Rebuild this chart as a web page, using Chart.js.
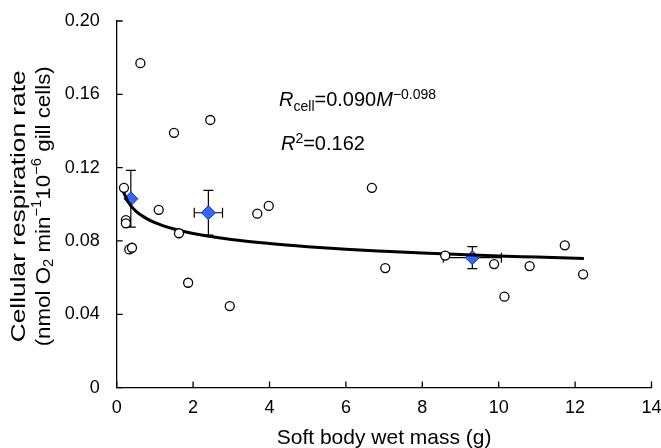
<!DOCTYPE html>
<html>
<head>
<meta charset="utf-8">
<script src="https://cdn.jsdelivr.net/npm/chart.js@4.4.1/dist/chart.umd.min.js"></script>
<style>
html,body{margin:0;padding:0;background:#fff;}
#wrap{width:661px;height:448px;position:relative;}
</style>
</head>
<body>
<div id="wrap"><canvas id="c" width="661" height="448"></canvas></div>
<script>
// Individual measurements
const massX = [0.62,1.50,2.45,0.19,1.10,0.24,0.24,0.33,0.40,1.63,1.87,2.96,3.68,3.98,6.68,7.03,8.60,9.88,10.15,10.81,11.73,12.21];
const rateY = [0.177,0.139,0.146,0.109,0.097,0.0914,0.0896,0.0754,0.0763,0.0842,0.0572,0.0445,0.0949,0.0991,0.109,0.0652,0.0720,0.0674,0.0496,0.0663,0.0776,0.0618];
// Group means with error bars
const meanX = [0.37,2.40,9.31];
const meanY = [0.103,0.0954,0.0709];
const meanXErr = [0,0.37,0.76];
const meanYErr = [0.0155,0.0122,0.0060];
// Fitted curve
const fitX = [0.17,0.3,0.5,0.75,1,1.5,2,3,4,5,6,7,8,9,10,11,12.23];
const fitY = [0.107,0.1013,0.0963,0.0926,0.0900,0.0865,0.0841,0.0808,0.0786,0.0769,0.0755,0.0744,0.0734,0.0726,0.0718,0.0712,0.0704];
// Ticks
const xTicks = [0,2,4,6,8,10,12,14];
const yTicks = [0,0.04,0.08,0.12,0.16,0.20];
const yTickLabels = ['0','0.04','0.08','0.12','0.16','0.20'];
const xTitle = 'Soft body wet mass (g)';

const FONT = '"Liberation Sans", Arial, sans-serif';

const innerTicks = {
  id:'innerTicks',
  afterDraw(chart){
    const ctx = chart.ctx, xs = chart.scales.x, ys = chart.scales.y;
    ctx.save();
    ctx.strokeStyle = '#000'; ctx.lineWidth = 1.3;
    ctx.beginPath();
    xTicks.forEach(v=>{const p=xs.getPixelForValue(v); ctx.moveTo(p,ys.bottom); ctx.lineTo(p,ys.bottom-6);});
    yTicks.forEach(v=>{const p=ys.getPixelForValue(v); ctx.moveTo(xs.left,p); ctx.lineTo(xs.left+6,p);});
    ctx.stroke();
    ctx.restore();
  }
};

const errorBars = {
  id:'errorBars',
  beforeDatasetDraw(chart, args){
    if(args.index !== 2) return;
    const ctx = chart.ctx, xs = chart.scales.x, ys = chart.scales.y;
    ctx.save();
    ctx.strokeStyle = '#000'; ctx.lineWidth = 1.2;
    ctx.beginPath();
    const cap = 5;
    meanX.forEach((mx,i)=>{
      const px = xs.getPixelForValue(mx), py = ys.getPixelForValue(meanY[i]);
      if(meanYErr[i]>0){
        const t = ys.getPixelForValue(meanY[i]+meanYErr[i]), b = ys.getPixelForValue(meanY[i]-meanYErr[i]);
        ctx.moveTo(px,t); ctx.lineTo(px,b);
        ctx.moveTo(px-cap,t); ctx.lineTo(px+cap,t);
        ctx.moveTo(px-cap,b); ctx.lineTo(px+cap,b);
      }
      if(meanXErr[i]>0){
        const l = xs.getPixelForValue(mx-meanXErr[i]), r = xs.getPixelForValue(mx+meanXErr[i]);
        ctx.moveTo(l,py); ctx.lineTo(r,py);
        ctx.moveTo(l,py-cap); ctx.lineTo(l,py+cap);
        ctx.moveTo(r,py-cap); ctx.lineTo(r,py+cap);
      }
    });
    ctx.stroke();
    ctx.restore();
  }
};

function measureRich(ctx, parts){
  let w = 0;
  parts.forEach(p=>{ ctx.font = p.font; w += ctx.measureText(p.t).width; });
  return w;
}
function rich(ctx, x, y, parts){
  let cx = x;
  parts.forEach(p=>{
    ctx.font = p.font;
    ctx.fillText(p.t, cx, y + (p.dy||0));
    cx += ctx.measureText(p.t).width;
  });
}

const annot = {
  id:'annot',
  afterDatasetsDraw(chart){
    const ctx = chart.ctx, xs = chart.scales.x, ys = chart.scales.y;
    ctx.save();
    ctx.fillStyle = '#000'; ctx.textBaseline = 'alphabetic'; ctx.textAlign = 'left';
    const big = '20px ' + FONT, bigI = 'italic 20px ' + FONT, small = '14px ' + FONT;
    rich(ctx, xs.getPixelForValue(4.25), ys.getPixelForValue(0.1536), [
      {t:'R', font:bigI},{t:'cell', font:small, dy:5},{t:'=0.090', font:big},{t:'M', font:bigI},{t:'\u22120.098', font:small, dy:-7}
    ]);
    rich(ctx, xs.getPixelForValue(4.30), ys.getPixelForValue(0.1296), [
      {t:'R', font:bigI},{t:'2', font:small, dy:-7},{t:'=0.162', font:big}
    ]);
    ctx.restore();
  }
};

// Y-axis title drawn as two text lines, rotated
const yTitle = {
  id:'yTitle',
  afterDraw(chart){
    const ctx = chart.ctx, ys = chart.scales.y;
    const big = '21px ' + FONT, small = '14px ' + FONT;
    const lines = [
      {cx:19, len:272, parts:[{t:'Cellular respiration rate', font:big}]},
      {cx:44, len:280, parts:[{t:'(nmol O', font:big},{t:'2', font:small, dy:5},{t:' min', font:big},{t:'\u22121', font:small, dy:-7},{t:'10', font:big},{t:'\u22126', font:small, dy:-7},{t:' gill cells)', font:big}]}
    ];
    const cy = (ys.top + ys.bottom)/2 + 2;
    ctx.save();
    ctx.fillStyle = '#000'; ctx.textBaseline = 'middle'; ctx.textAlign = 'left';
    lines.forEach(L=>{
      const w = measureRich(ctx, L.parts);
      const s = L.len / w;
      ctx.save();
      ctx.translate(L.cx, cy);
      ctx.rotate(-Math.PI/2);
      ctx.scale(s, 1);
      rich(ctx, -w/2, 0, L.parts);
      ctx.restore();
    });
    ctx.restore();
  }
};

new Chart(document.getElementById('c'), {
  type:'scatter',
  data:{
    datasets:[
      {label:'individuals', data:massX.map((x,i)=>({x:x,y:rateY[i]})), pointRadius:4.5, pointBackgroundColor:'#fff', pointBorderColor:'#000', pointBorderWidth:1.3, showLine:false},
      {label:'fit', data:fitX.map((x,i)=>({x:x,y:fitY[i]})), showLine:true, pointRadius:0, borderColor:'#000', borderWidth:3, cubicInterpolationMode:'monotone', fill:false},
      {label:'means', data:meanX.map((x,i)=>({x:x,y:meanY[i]})), pointStyle:'rectRot', pointRadius:7, pointBackgroundColor:'#3366ff', pointBorderColor:'#1a2fb0', pointBorderWidth:1, showLine:false}
    ]
  },
  options:{
    responsive:false, animation:false, clip:false,
    layout:{padding:{left:0,right:9.5,top:21,bottom:0}},
    plugins:{legend:{display:false}, tooltip:{enabled:false}},
    scales:{
      x:{
        type:'linear', min:0, max:14,
        afterBuildTicks(s){ s.ticks = xTicks.map(v=>({value:v})); },
        afterFit(s){ s.height = 60.4; s.paddingLeft = 0; s.paddingRight = 0; },
        ticks:{color:'#000', font:{family:FONT, size:18}, padding:10, maxRotation:0, callback:(v)=>String(v)},
        grid:{display:true, drawOnChartArea:false, drawTicks:false},
        border:{display:true, color:'#000', width:1.3},
        title:{display:true, text:xTitle, color:'#000', font:{family:FONT, size:21, lineHeight:1.2}, padding:{top:0,bottom:-3}}
      },
      y:{
        type:'linear', min:0, max:0.2,
        afterBuildTicks(s){ s.ticks = yTicks.map(v=>({value:v})); },
        afterFit(s){ s.width = 116.7; s.paddingTop = 0; s.paddingBottom = 0; },
        ticks:{color:'#000', font:{family:FONT, size:18}, padding:17, callback:(v)=>{const i=yTicks.findIndex(t=>Math.abs(t-v)<1e-9); return i>=0?yTickLabels[i]:'';}},
        grid:{display:true, drawOnChartArea:false, drawTicks:false},
        border:{display:true, color:'#000', width:1.3},
        title:{display:false}
      }
    }
  },
  plugins:[innerTicks, errorBars, annot, yTitle]
});
</script>
</body>
</html>
